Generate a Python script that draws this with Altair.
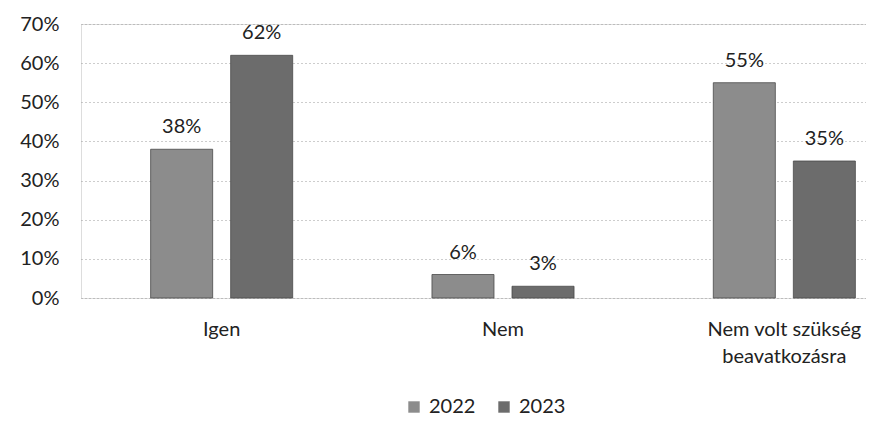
import altair as alt
import pandas as pd

categories = ["Igen", "Nem", "Nem volt szükség|beavatkozásra"]
years = ["2022", "2023"]
values_2022 = [0.38, 0.06, 0.55]
values_2023 = [0.62, 0.03, 0.35]
labels_2022 = ["38%", "6%", "55%"]
labels_2023 = ["62%", "3%", "35%"]
y_ticks = [0, 0.1, 0.2, 0.3, 0.4, 0.5, 0.6, 0.7]

rows = []
for c, v, l in zip(categories, values_2022, labels_2022):
    rows.append({"cat": c, "year": "2022", "value": v, "label": l})
for c, v, l in zip(categories, values_2023, labels_2023):
    rows.append({"cat": c, "year": "2023", "value": v, "label": l})
df = pd.DataFrame(rows)

FONT = "Lato"
FS = 20
W = 785
H = 274

x = alt.X("cat:N", sort=categories, title=None,
          scale=alt.Scale(range=[0, 844], paddingInner=0, paddingOuter=0),
          axis=alt.Axis(labelAngle=0, labelExpr="split(datum.label, '|')",
                        labelFontSize=FS, labelFont=FONT, labelColor="#222",
                        labelPadding=21, labelLineHeight=27, ticks=False,
                        domain=False, grid=False, labelBaseline="top"))
xo = alt.XOffset("year:N", sort=years,
                 scale=alt.Scale(paddingInner=0.225, paddingOuter=0.87))
y = alt.Y("value:Q", title=None,
          scale=alt.Scale(domain=[0, 0.7], nice=False),
          axis=alt.Axis(format=".0%", values=y_ticks, tickCount=8,
                        labelFontSize=FS, labelFont=FONT, labelColor="#222",
                        labelPadding=22, ticks=False, domain=False,
                        labelOverlap=False, labelFlush=False,
                        gridColor="#9a9a9a", gridDash=[1, 3], gridWidth=1))

color = alt.Color("year:N", sort=years, title=None,
                  scale=alt.Scale(domain=years, range=["#8c8c8c", "#6c6c6c"]),
                  legend=alt.Legend(orient="none", direction="horizontal",
                                    legendX=323, legendY=373,
                                    symbolType="square", symbolSize=130,
                                    symbolStrokeWidth=0,
                                    labelFontSize=FS, labelFont=FONT,
                                    labelColor="#222", columnPadding=18,
                                    labelOffset=5))

bars = alt.Chart(df).mark_bar(stroke="#4a4a4a", strokeWidth=0.8).encode(
    x=x, xOffset=xo, y=y, color=color)

text = alt.Chart(df).mark_text(font=FONT, fontSize=FS, color="#222",
                               baseline="alphabetic", dy=-16).encode(
    x=x, xOffset=xo, y=y, text="label:N")

chart = alt.layer(bars, text).properties(
    width=W, height=H,
    autosize=alt.AutoSizeParams(type="none"),
    padding={"left": 73, "top": 16, "right": 0, "bottom": 118},
).configure_view(stroke=None).configure(background="white")

chart.save("out.html", embed_options={"renderer": "svg", "actions": False})
